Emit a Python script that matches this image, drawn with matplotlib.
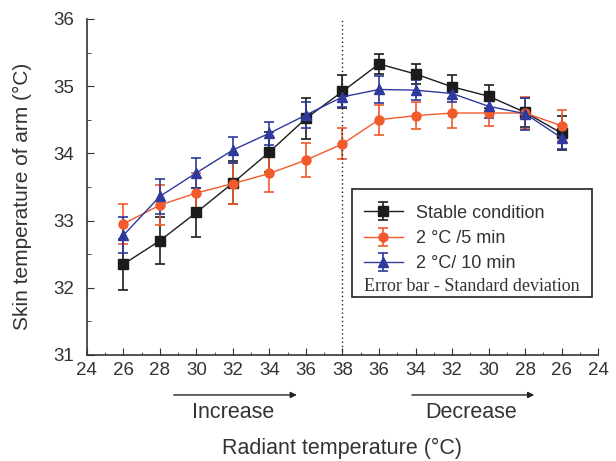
"""Skin temperature of arm vs radiant temperature (increase / decrease)."""
import matplotlib
matplotlib.use("Agg")
import matplotlib.pyplot as plt
from matplotlib.patches import Rectangle
from matplotlib.ticker import MultipleLocator

# --- data -----------------------------------------------------------------
x_labels = ["24", "26", "28", "30", "32", "34", "36", "38",
            "36", "34", "32", "30", "28", "26", "24"]
pos = list(range(1, 14))  # measurement points: 26 ... 38 ... 26

stable = [32.35, 32.70, 33.12, 33.56, 34.02, 34.52, 34.92,
          35.33, 35.18, 34.99, 34.85, 34.61, 34.30]
stable_sd = [0.38, 0.35, 0.36, 0.32, 0.30, 0.30, 0.24,
             0.15, 0.15, 0.18, 0.17, 0.22, 0.25]

rate5 = [32.95, 33.23, 33.41, 33.55, 33.70, 33.90, 34.14,
         34.50, 34.56, 34.60, 34.60, 34.60, 34.41]
rate5_sd = [0.30, 0.30, 0.30, 0.30, 0.28, 0.25, 0.23,
            0.22, 0.20, 0.22, 0.20, 0.24, 0.23]

rate10 = [32.78, 33.36, 33.71, 34.05, 34.30, 34.57, 34.84,
          34.95, 34.94, 34.89, 34.70, 34.59, 34.23]
rate10_sd = [0.27, 0.26, 0.22, 0.19, 0.17, 0.19, 0.15,
             0.20, 0.15, 0.12, 0.17, 0.24, 0.17]

series = [
    ("Stable condition", stable, stable_sd, "#1c1c1c", "s"),
    ("2 °C /5 min", rate5, rate5_sd, "#f15a2b", "o"),
    ("2 °C/ 10 min", rate10, rate10_sd, "#2e3a9c", "^"),
]

plt.rcParams["font.family"] = ["Liberation Sans", "DejaVu Sans"]

fig = plt.figure(figsize=(6.16, 4.61), dpi=100)
ax = fig.add_axes([0.141, 0.230, 0.830, 0.729])

for label, y, sd, col, mk in series:
    ax.errorbar(pos, y, yerr=sd, color=col, marker=mk, markersize=6.5,
                lw=1.0, elinewidth=1.2, capsize=3.5, capthick=1.2, label=label)

ax.axvline(7, color="#222222", lw=1.0, ls=(0, (1, 2)))

ax.set_xlim(0, 14)
ax.set_ylim(31, 36)
ax.set_xticks(range(len(x_labels)))
ax.set_xticklabels(x_labels)
ax.xaxis.set_minor_locator(MultipleLocator(0.5))
ax.yaxis.set_major_locator(MultipleLocator(1))
ax.yaxis.set_minor_locator(MultipleLocator(0.5))
ax.tick_params(which="both", direction="in", labelsize=13.5, color="#333333",
               labelcolor="#333333")
ax.tick_params(axis="y", which="major", length=5, pad=9)
ax.tick_params(axis="y", which="minor", length=3)
ax.tick_params(axis="x", which="major", length=5, pad=5)
ax.tick_params(axis="x", which="minor", length=2.5)
for s in ["top", "right"]:
    ax.spines[s].set_visible(False)
for s in ["left", "bottom"]:
    ax.spines[s].set_linewidth(1.2)
    ax.spines[s].set_color("#333333")

ax.set_ylabel("Skin temperature of arm (°C)", fontsize=15, color="#333333")
ax.yaxis.set_label_coords(-0.108, 0.473)

# increase / decrease arrows under the axis
tr = ax.get_xaxis_transform()
for x0, x1, xc, txt in [(2.38, 5.75, 4.0, "Increase"),
                        (8.9, 12.25, 10.52, "Decrease")]:
    ax.annotate("", xy=(x1, -0.119), xytext=(x0, -0.119), xycoords=tr,
                textcoords=tr, annotation_clip=False,
                arrowprops=dict(arrowstyle="-|>", lw=1.0, color="#222222",
                                mutation_scale=9, shrinkA=0, shrinkB=0))
    ax.text(xc, -0.170, txt, transform=tr, ha="center",
            va="center", fontsize=15.5, color="#333333")
ax.text(7, -0.277, "Radiant temperature (°C)", transform=tr, ha="center",
        va="center", fontsize=15.5, color="#333333")

# legend box
ax.add_patch(Rectangle((0.519, 0.173), 0.469, 0.321, transform=ax.transAxes,
                       fill=False, ec="#222222", lw=1.2, zorder=5))
leg = ax.legend(loc="upper left", bbox_to_anchor=(0.513, 0.490), frameon=False,
                fontsize=13, handlelength=2.2, handletextpad=0.7,
                labelspacing=0.45, borderpad=0.3)
for t in leg.get_texts():
    t.set_color("#333333")
ax.text(0.543, 0.203, "Error bar - Standard deviation", transform=ax.transAxes,
        ha="left", va="center", fontsize=13, color="#333333",
        family=["Liberation Serif", "DejaVu Serif"])

fig.savefig("out.png", dpi=100)
